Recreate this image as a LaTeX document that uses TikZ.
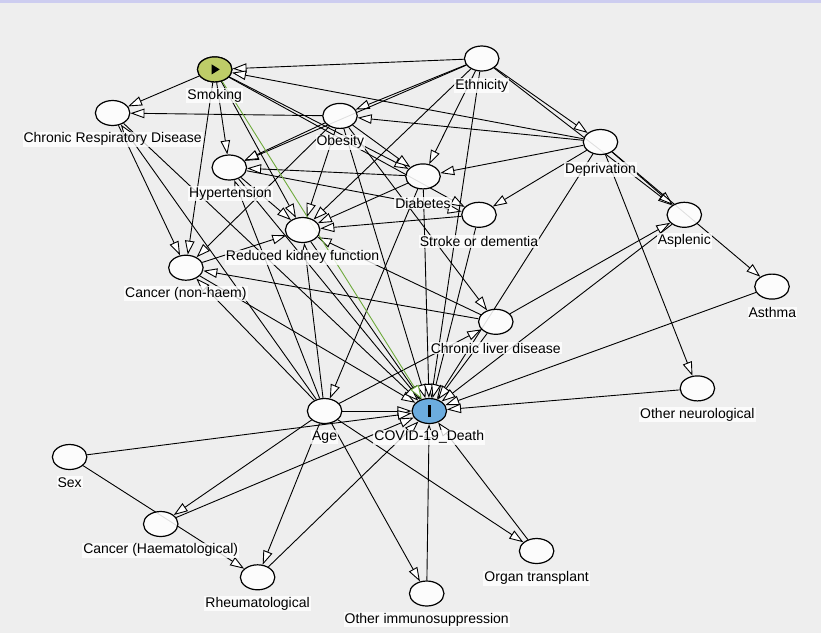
\documentclass[tikz,border=0pt]{standalone}
\usepackage{fontspec}
\setmainfont{Liberation Sans}
\usetikzlibrary{arrows.meta,shapes.geometric}
\pgfdeclarelayer{bg}
\pgfdeclarelayer{edges}
\pgfsetlayers{bg,edges,main}
\definecolor{bgc}{RGB}{238,238,238}
\definecolor{smkc}{RGB}{190,204,104}
\definecolor{covc}{RGB}{108,172,222}
\definecolor{grn}{RGB}{110,170,60}
\definecolor{topc}{RGB}{205,205,240}
\begin{document}
\begin{tikzpicture}[x=1pt,y=-1pt,
  var/.style={ellipse, draw=black, line width=1.2pt, fill=white, fill opacity=0.88, text opacity=1,
    minimum width=34.5pt, minimum height=25pt, inner sep=0pt},
  lab/.style={fill=white, fill opacity=0.8, text opacity=1, inner sep=1pt,
    font=\fontsize{14}{16}\selectfont},
  edge/.style={-{Triangle[length=14pt,width=9.5pt,fill=white]}, line width=0.9pt, draw=black},
  causal/.style={-{Triangle[length=14pt,width=9.5pt,fill=white]}, line width=0.9pt, draw=grn}]
\useasboundingbox (0,0) rectangle (821,633);
\begin{pgfonlayer}{bg}
  \fill[bgc] (0,0) rectangle (821,633);
  \fill[topc] (0,0) rectangle (821,3);
\end{pgfonlayer}
% nodes
\node[var] (smk) at (214.7,69.4) {};
\node[var] (eth) at (481.7,58.5) {};
\node[var] (crd) at (112.6,113) {};
\node[var] (obe) at (340,115.9) {};
\node[var] (dep) at (600.5,142) {};
\node[var] (hyp) at (229.3,167.5) {};
\node[var] (dia) at (423,176.4) {};
\node[var] (str) at (479,214.8) {};
\node[var] (rkf) at (302.6,230) {};
\node[var] (asp) at (684.3,214.8) {};
\node[var] (can) at (185.9,267.7) {};
\node[var] (ast) at (772,286.6) {};
\node[var] (cld) at (495.8,321.8) {};
\node[var] (neu) at (697.4,388.4) {};
\node[var] (age) at (324.6,411) {};
\node[var, fill=covc, fill opacity=1] (cov) at (429.3,411) {};
\node[var] (sex) at (69.6,457) {};
\node[var] (hae) at (160.7,524) {};
\node[var] (rhe) at (257.6,577.3) {};
\node[var] (org) at (536.6,551) {};
\node[var] (imm) at (426.7,593.5) {};
\path (smk) node[var, fill=smkc, fill opacity=1] {};
% symbols
\fill[black] ([shift={(-3,-5)}]smk.center) -- ([shift={(-3,5)}]smk.center) -- ([shift={(5,0)}]smk.center) -- cycle;
\fill[black] ([shift={(-1.8,-6)}]cov.center) rectangle ([shift={(1.8,6)}]cov.center);
% edges
\begin{pgfonlayer}{edges}
\foreach \a/\b in {smk/crd, smk/hyp, smk/can, smk/rkf, smk/dia, smk/str,
  eth/smk, eth/obe, eth/hyp, eth/dep, eth/asp, eth/dia, eth/rkf, eth/cov,
  dep/smk, dep/obe, dep/dia, dep/str, dep/cov, dep/asp, dep/ast, dep/neu,
  obe/crd, obe/hyp, obe/dia, obe/rkf, obe/can, obe/cld, obe/cov,
  dia/hyp, dia/age, dia/rkf, dia/cov,
  hyp/rkf, hyp/str, hyp/cov,
  str/rkf, str/cov,
  can/rkf, can/cov, rkf/cov,
  cld/can, cld/asp, cld/cov, cld/rkf,
  asp/cov, ast/cov, neu/cov,
  age/cov, age/can, age/hae, age/rhe, age/imm, age/org, age/cld, age/rkf, age/hyp, age/crd,
  sex/cov, sex/rhe, hae/cov, rhe/cov, imm/cov, org/cov, crd/can, crd/cov}
  \draw[edge] (\a) -- (\b);
\draw[causal] (smk) -- (cov);
\end{pgfonlayer}
% labels
\node[lab] (lsmk) at (214.7,95.7) {Smoking};
\node[lab] (leth) at (481.7,85.6) {Ethnicity};
\node[lab] (lcrd) at (112.6,139.3) {Chronic Respiratory Disease};
\node[lab] (lobe) at (340.3,142.1) {Obesity};
\node[lab] (ldep) at (600.5,169.6) {Deprivation};
\node[lab] (lhyp) at (230.4,193.8) {Hypertension};
\node[lab] (ldia) at (423,203) {Diabetes};
\node[lab] (lstr) at (479,241.4) {Stroke or dementia};
\node[lab] (lrkf) at (302.6,257.2) {Reduced kidney function};
\node[lab] (lasp) at (684.3,241) {Asplenic};
\node[lab] (lcan) at (185.9,293.9) {Cancer (non-haem)};
\node[lab] (last) at (772.3,312.9) {Asthma};
\node[lab] (lcld) at (495.8,348) {Chronic liver disease};
\node[lab] (lneu) at (697.4,414.6) {Other neurological};
\node[lab] (lage) at (324.6,437.2) {Age};
\node[lab] (lcov) at (429.3,437.2) {COVID-19\_Death};
\node[lab] (lsex) at (69.6,482.4) {Sex};
\node[lab] (lhae) at (160.7,550.3) {Cancer (Haematological)};
\node[lab] (lrhe) at (257.6,603.6) {Rheumatological};
\node[lab] (lorg) at (536.6,578.1) {Organ transplant};
\node[lab] (limm) at (426.7,619.7) {Other immunosuppression};
\end{tikzpicture}
\end{document}
